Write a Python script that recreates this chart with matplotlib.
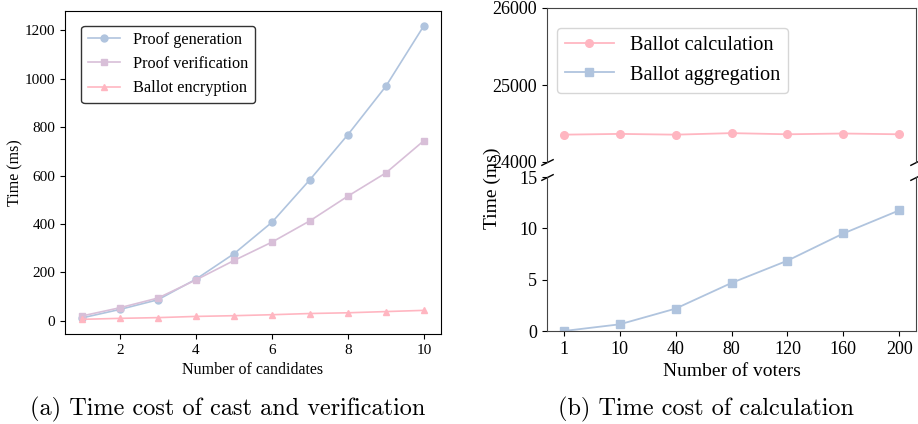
import matplotlib
matplotlib.use("Agg")
import matplotlib.pyplot as plt

plt.rcParams['font.family'] = ['Liberation Serif', 'DejaVu Serif']

# ---- data: panel (a)
candidates = [1, 2, 3, 4, 5, 6, 7, 8, 9, 10]
proof_generation = [12, 47, 87, 172, 277, 407, 583, 769, 969, 1219]
proof_verification = [20, 54, 94, 169, 249, 325, 413, 515, 611, 744]
ballot_encryption = [6, 10, 13, 18, 21, 25, 30, 33, 38, 43]

# ---- data: panel (b)
voter_labels = ['1', '10', '40', '80', '120', '160', '200']
ballot_calculation = [24355, 24365, 24355, 24375, 24360, 24370, 24360]
ballot_aggregation = [0.0, 0.65, 2.18, 4.68, 6.85, 9.5, 11.75]

BLUE = '#B0C4DE'
PINK = '#FFB6C1'
PURPLE = '#D8BFD8'

W, H = 918, 424
fig = plt.figure(figsize=(W / 100, H / 100), dpi=100)

def rect(x0, y0, x1, y1):
    return [x0 / W, 1 - y1 / H, (x1 - x0) / W, (y1 - y0) / H]

# ---------------- panel (a)
ax = fig.add_axes(rect(65, 11, 441, 334))
ax.plot(candidates, proof_generation, color=BLUE, marker='o', markersize=5, lw=1.2,
        label='Proof generation')
ax.plot(candidates, proof_verification, color=PURPLE, marker='s', markersize=5, lw=1.2,
        label='Proof verification')
ax.plot(candidates, ballot_encryption, color=PINK, marker='^', markersize=5, lw=1.2,
        label='Ballot encryption')
ax.set_xticks([2, 4, 6, 8, 10])
ax.set_yticks([0, 200, 400, 600, 800, 1000, 1200])
ax.tick_params(labelsize=11)
ax.set_xlabel('Number of candidates', fontsize=11.5, labelpad=4)
ax.set_ylabel('Time (ms)', fontsize=11.5, labelpad=1)
leg = ax.legend(loc='upper left', fontsize=11.7, framealpha=1, edgecolor='#333333',
                bbox_to_anchor=(0.035, 0.965), borderaxespad=0.2)

# ---------------- panel (b)
axt = fig.add_axes(rect(547, 8, 916, 162))
axb = fig.add_axes(rect(547, 177, 916, 331))
xpos = list(range(len(voter_labels)))
for a in (axt, axb):
    a.plot(xpos, ballot_calculation, color=PINK, marker='o', markersize=5.5, lw=1.3,
           label='Ballot calculation')
    a.plot(xpos, ballot_aggregation, color=BLUE, marker='s', markersize=5.5, lw=1.3,
           label='Ballot aggregation')
    a.set_xlim(-0.3, 6.3)
    a.tick_params(labelsize=13)
    for s in a.spines.values():
        s.set_color('#444444')
axt.set_ylim(24000, 26000)
axt.set_yticks([24000, 25000, 26000])
axb.set_ylim(0, 15)
axb.set_yticks([0, 5, 10, 15])
axt.spines['bottom'].set_visible(False)
axb.spines['top'].set_visible(False)
axt.tick_params(bottom=False, labelbottom=False)
axb.set_xticks(xpos)
axb.set_xticklabels(voter_labels)
axb.set_xlabel('Number of voters', fontsize=14, labelpad=4)
axt.legend(loc='upper left', fontsize=14.6, bbox_to_anchor=(0.01, 0.91),
           borderaxespad=0.3, handlelength=2.4)

kw = dict(marker=[(-1, -0.5), (1, 0.5)], markersize=9, linestyle='none',
          color='k', mec='k', mew=1, clip_on=False)
axt.plot([0, 1], [0, 0], transform=axt.transAxes, **kw)
axb.plot([0, 1], [1, 1], transform=axb.transAxes, **kw)

fig.text(492 / W, 1 - 188 / H, 'Time (ms)', rotation=90, fontsize=14,
         ha='center', va='center')

# ---------------- captions
fig.text(228 / W, 1 - 409 / H, '(a) Time cost of cast and verification',
         fontsize=17.5, family='cmr10', ha='center', va='center')
fig.text(706 / W, 1 - 409 / H, '(b) Time cost of calculation',
         fontsize=17.5, family='cmr10', ha='center', va='center')

fig.savefig('out.png', dpi=100)
